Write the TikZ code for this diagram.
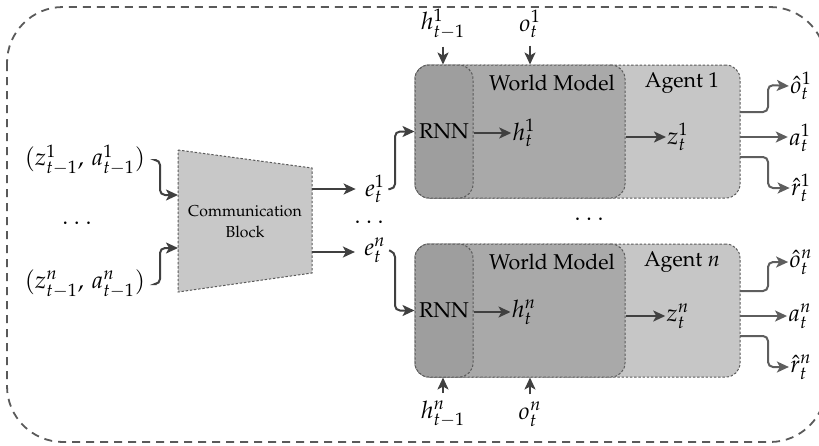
\documentclass[tikz,border=0pt]{standalone}
\usepackage[T1]{fontenc}
\usepackage{mathpazo}
\usetikzlibrary{arrows.meta}
\definecolor{arrowc}{HTML}{404040}
\definecolor{outc}{HTML}{5E5E5E}
\definecolor{agentc}{HTML}{C6C6C6}
\definecolor{wmc}{HTML}{A9A9A9}
\definecolor{rnnc}{HTML}{9E9E9E}
\definecolor{commc}{HTML}{C8C8C8}
\definecolor{borderc}{HTML}{5A5A5A}
\begin{document}
\begin{tikzpicture}[x=0.5pt,y=-0.5pt,
  arr/.style={draw=arrowc, line width=1pt, -{Stealth[length=6pt,width=5.5pt,inset=1.5pt]}, rounded corners=2.5pt},
  outarr/.style={arr, draw=outc},
  box/.style={draw=borderc, line width=0.5pt, dash pattern=on 1.2pt off 0.9pt, rounded corners=7pt, minimum height=66.5pt, inner sep=0pt},
  lbl/.style={font=\fontsize{12}{14}\selectfont, inner sep=0.5pt},
  txt/.style={font=\fontsize{10.7}{13}\selectfont, inner sep=0pt},
  dotsn/.style={font=\fontsize{12}{14}\selectfont, inner sep=0pt}]
\useasboundingbox (0,0) rectangle (819,445);
% outer frame
\draw[draw=borderc, line width=0.9pt, dash pattern=on 4pt off 3pt, rounded corners=28pt] (7,7) rectangle (826,442);

% ---------- Communication block ----------
\draw[draw=borderc, line width=0.5pt, dash pattern=on 1.2pt off 0.9pt, fill=commc] (178,150) -- (312,168) -- (312,273) -- (178,292) -- cycle;
\node[font=\fontsize{7.9}{10.5}\selectfont, align=center, inner sep=0pt] (cb) at (245,222) {Communication\\Block};
\coordinate (cbin1) at (178,195);
\coordinate (cbin2) at (178,248);
\coordinate (cbout1) at (312,189);
\coordinate (cbout2) at (312,252);

\node[lbl] (zin1) at (85,160) {$(z^1_{t-1},\, a^1_{t-1})$};
\node[lbl] (zinn) at (85,284) {$(z^n_{t-1},\, a^n_{t-1})$};
\node[dotsn] (dl) at (77,224) {$\cdots$};
\draw[arr, shorten <=5pt] (zin1.east) -- (160,160) -- (160,195) -- (cbin1);
\draw[arr, shorten <=5pt] (zinn.east) -- (160,284) -- (160,248) -- (cbin2);

\node[lbl] (e1) at (375,189) {$e^1_t$};
\node[lbl] (en) at (375,250) {$e^n_t$};
\node[dotsn] (dm) at (369,223) {$\cdots$};
\draw[arr, shorten >=4pt] (cbout1) -- (cbout1 -| e1.west);
\draw[arr, shorten >=4pt] (cbout2) -- (cbout2 -| en.west);

% ---------- Agent 1 ----------
\node[box, fill=agentc, minimum width=162.5pt] (ag1) at (577.5,131.5) {};
\node[box, fill=wmc, minimum width=105pt] (wm1) at (520,131.5) {};
\node[box, fill=rnnc, minimum width=29pt, txt] (rnn1) at (444,131.5) {RNN};
\node[txt] (wmt1) at (552,83) {World Model};
\node[txt] (agt1) at (682,83) {Agent 1};
\node[lbl] (h1) at (524,133) {$h^1_t$};
\node[lbl] (z1) at (678,137) {$z^1_t$};
\draw[arr] (rnn1.east |- h1) -- (h1.west);
\draw[arr] (wm1.east |- z1) -- (z1.west);
\draw[arr, shorten <=1pt] (e1.east) -- (395,189) -- (395,131.5) -- (rnn1.west);

\node[lbl] (hp1) at (443,24) {$h^1_{t-1}$};
\node[lbl] (o1) at (530,24) {$o^1_t$};
\draw[arr, shorten <=3pt] (hp1.south) -- (hp1.south |- ag1.north);
\draw[arr, shorten <=3pt] (o1.south) -- (o1.south |- ag1.north);

\node[lbl] (oh1) at (801,86) {$\hat{o}^1_t$};
\node[lbl] (a1) at (800,138) {$a^1_t$};
\node[lbl] (rh1) at (801,188) {$\hat{r}^1_t$};
\coordinate (ag1p) at (740,112);
\coordinate (ag1q) at (740,137);
\coordinate (ag1r) at (740,157);
\draw[outarr] (ag1p) -- (768,112) -- (768,85) -- (oh1.west);
\draw[outarr] (ag1q) -- (ag1q -| a1.west);
\draw[outarr] (ag1r) -- (768,157) -- (768,188) -- (rh1.west);

\node[dotsn] (dr) at (589,220) {$\cdots$};

% ---------- Agent n ----------
\node[box, fill=agentc, minimum width=162.5pt] (agn) at (577.5,310.5) {};
\node[box, fill=wmc, minimum width=105pt] (wmn) at (520,310.5) {};
\node[box, fill=rnnc, minimum width=29pt, txt] (rnnn) at (444,310.5) {RNN};
\node[txt] (wmtn) at (552,262) {World Model};
\node[txt] (agtn) at (682,262) {Agent $n$};
\node[lbl] (hn) at (524,312) {$h^n_t$};
\node[lbl] (zn) at (678,316) {$z^n_t$};
\draw[arr] (rnnn.east |- hn) -- (hn.west);
\draw[arr] (wmn.east |- zn) -- (zn.west);
\draw[arr, shorten <=1pt] (en.east) -- (395,252) -- (395,310.5) -- (rnnn.west);

\node[lbl] (hpn) at (443,414) {$h^n_{t-1}$};
\node[lbl] (on) at (530,414) {$o^n_t$};
\draw[arr, shorten <=3pt] (hpn.north) -- (hpn.north |- agn.south);
\draw[arr, shorten <=3pt] (on.north) -- (on.north |- agn.south);

\node[lbl] (ohn) at (801,262) {$\hat{o}^n_t$};
\node[lbl] (an) at (800,316) {$a^n_t$};
\node[lbl] (rhn) at (801,367) {$\hat{r}^n_t$};
\coordinate (agnp) at (740,291);
\coordinate (agnq) at (740,316);
\coordinate (agnr) at (740,336);
\draw[outarr] (agnp) -- (768,291) -- (768,262) -- (ohn.west);
\draw[outarr] (agnq) -- (agnq -| an.west);
\draw[outarr] (agnr) -- (768,336) -- (768,367) -- (rhn.west);
\end{tikzpicture}
\end{document}
